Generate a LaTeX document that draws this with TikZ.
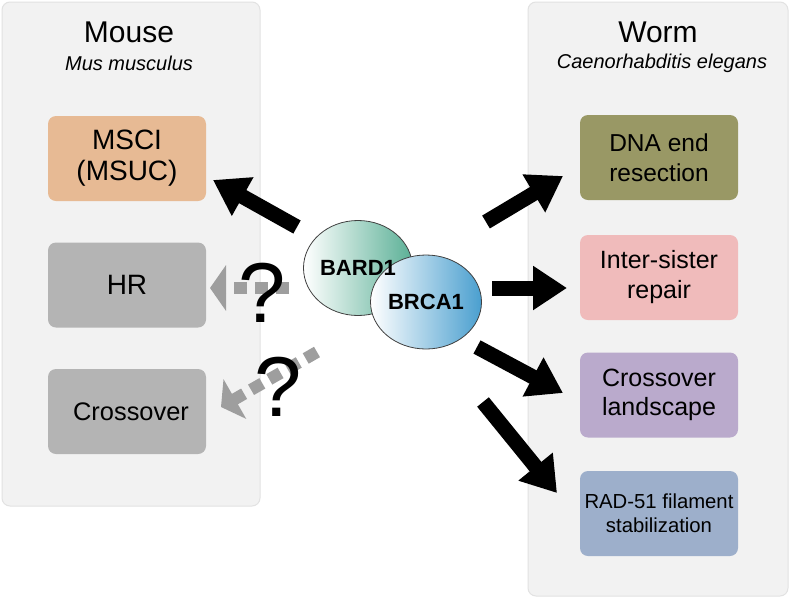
\documentclass[tikz,border=0pt]{standalone}
\usepackage{fontspec}
\setmainfont{Liberation Sans}
\usetikzlibrary{arrows.meta,positioning,shapes.geometric}

\definecolor{panelgray}{HTML}{F2F2F2}
\definecolor{panelline}{HTML}{E2E2E2}
\definecolor{boxgray}{HTML}{B4B4B4}
\definecolor{arrowgray}{HTML}{9E9E9E}
\definecolor{mscicol}{HTML}{E7BA94}
\definecolor{dnacol}{HTML}{999865}
\definecolor{intercol}{HTML}{F0BBBB}
\definecolor{landcol}{HTML}{BAAACC}
\definecolor{radcol}{HTML}{9DAFCB}
\definecolor{bardcol}{HTML}{5BB096}
\definecolor{brcacol}{HTML}{4A9FCF}

\begin{document}
\begin{tikzpicture}[x=1pt,y=-1pt,
    panel/.style={draw=panelline,fill=panelgray,rounded corners=8pt,line width=1pt},
    rolebox/.style={rounded corners=8pt,minimum width=158pt,minimum height=85pt,
      align=center,inner sep=0pt},
    protein/.style={ellipse,draw=black!75,line width=0.8pt,inner sep=0pt},
    proteintext/.style={font=\fontsize{22}{26}\selectfont\bfseries},
    bigarrow/.style={line width=15pt,-{Triangle[length=34pt,width=42pt]}},
    grayarrow/.style={arrowgray,line width=12pt,dash pattern=on 13pt off 8pt,
      -{Triangle[length=16pt,width=45pt]}},
    qmark/.style={font=\fontsize{85}{90}\selectfont,inner sep=0pt}
  ]
    \useasboundingbox (0,0) rectangle (790,598);
    \fill[white] (0,0) rectangle (790,598);

    % species panels
    \draw[panel] (2,2) rectangle (260,506);
    \draw[panel] (528,2) rectangle (788,596);

    \node[font=\fontsize{30}{34}\selectfont] (mouse) at (129,32) {Mouse};
    \node[font=\fontsize{20}{24}\selectfont\itshape] (musmus) at (129,63)
      {Mus musculus};
    \node[font=\fontsize{30}{34}\selectfont] (worm) at (658,32) {Worm};
    \node[font=\fontsize{20}{24}\selectfont\itshape] (celegans) at (662,63)
      {Caenorhabditis elegans};

    % mouse roles
    \node[rolebox,fill=mscicol,font=\fontsize{28}{31}\selectfont] (msci)
      at (127,158.5) {MSCI\\(MSUC)};
    \node[rolebox,fill=boxgray,font=\fontsize{28}{31}\selectfont] (hr)
      at (127,285) {HR};
    \node[rolebox,fill=boxgray,font=\fontsize{25.4}{30}\selectfont] (mcross)
      at (127,411.5) {\hspace*{8pt}Crossover};

    % worm roles
    \node[rolebox,fill=dnacol,font=\fontsize{24.5}{30}\selectfont] (dna)
      at (659,157.5) {DNA end\\resection};
    \node[rolebox,fill=intercol,font=\fontsize{25}{30}\selectfont] (inter)
      at (659,277.5) {Inter-sister\\repair};
    \node[rolebox,fill=landcol,font=\fontsize{25}{29}\selectfont] (land)
      at (659,395) {Crossover\\landscape};
    \node[rolebox,fill=radcol,font=\fontsize{20.3}{24}\selectfont] (rad)
      at (659,513.5) {RAD-51 filament\\stabilization};

    % BARD1--BRCA1 heterodimer
    \node[protein,minimum width=109pt,minimum height=95pt,
      left color=white,right color=bardcol] (bard) at (358,268) {};
    \node[protein,minimum width=111pt,minimum height=94pt,
      left color=white,right color=brcacol,proteintext] (brca) at (426,302)
      {BRCA1};
    \node[proteintext] (bardlabel) at (bard) {BARD1};

    % arrow ends
    \coordinate (mscitail) at (297,227);
    \coordinate (mscitip) at (213,180);
    \coordinate (hrtail) at (289,288);
    \coordinate (hrtip) at (210,288);
    \coordinate (mcrosstail) at (317,352);
    \coordinate (mcrosstip) at (221,407);
    \coordinate (dnatail) at (486,222);
    \coordinate (dnatip) at (563,176);
    \coordinate (intertail) at (492,288);
    \coordinate (intertip) at (567,288);
    \coordinate (landtail) at (477,347);
    \coordinate (landtip) at (563,393);
    \coordinate (radtail) at (483,402);
    \coordinate (radtip) at (557,493);

    \draw[bigarrow] (mscitail) -- (mscitip);
    \draw[grayarrow] (hrtail) -- (hrtip);
    \draw[grayarrow] (mcrosstail) -- (mcrosstip);
    \draw[bigarrow] (dnatail) -- (dnatip);
    \draw[bigarrow] (intertail) -- (intertip);
    \draw[bigarrow] (landtail) -- (landtip);
    \draw[bigarrow] (radtail) -- (radtip);

    \node[qmark] (qhr) at (262,293) {?};
    \node[qmark] (qcross) at (278,387) {?};
\end{tikzpicture}
\end{document}
